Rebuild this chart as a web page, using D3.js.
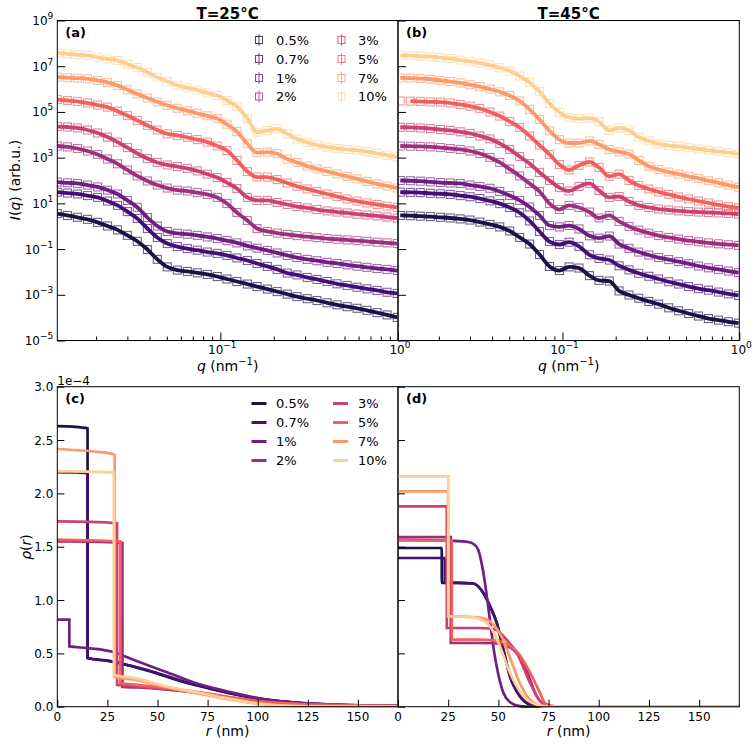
<!DOCTYPE html>
<html>
<head>
<meta charset="utf-8">
<script src="https://d3js.org/d3.v7.min.js"></script>
<style>
  body { margin: 0; background: #fff; }
  svg text { font-family: "DejaVu Sans", sans-serif; fill: #000; }
</style>
</head>
<body>
<svg id="fig" width="756" height="745"></svg>
<script>
// ---- data ----
var labels = ['0.5%', '0.7%', '1%', '2%', '3%', '5%', '7%', '10%'];
// magma colormap samples
var colors = ['#1d1147', '#420f74', '#6f1f81', '#9e2f7f', '#cd4071', '#f1605d', '#fd9a6a', '#fecf92'];

// scattering vector q (nm^-1)
var q = [0.0121, 0.0138, 0.0157, 0.0179, 0.0204, 0.0232, 0.0264, 0.0300, 0.0341, 0.0389,
         0.0442, 0.0503, 0.0573, 0.0652, 0.0742, 0.0845, 0.0961, 0.109, 0.124, 0.142,
         0.161, 0.184, 0.209, 0.238, 0.270, 0.308, 0.350, 0.399, 0.454, 0.517,
         0.588, 0.669, 0.762, 0.867, 0.990];

// log10 I(q), T = 25 C
var i25_05 = [0.55,0.47,0.39,0.30,0.17,0.01,-0.16,-0.40,-0.66,-1.02,-1.45,-1.78,-1.92,-1.98,-2.04,-2.11,-2.20,-2.31,-2.42,-2.53,-2.64,-2.75,-2.86,-2.97,-3.08,-3.17,-3.25,-3.35,-3.44,-3.52,-3.59,-3.68,-3.78,-3.88,-3.99];
var i25_07 = [1.49,1.45,1.41,1.34,1.26,1.10,0.91,0.64,0.34,-0.10,-0.49,-0.76,-0.89,-0.98,-1.05,-1.13,-1.19,-1.28,-1.39,-1.50,-1.63,-1.76,-1.89,-2.05,-2.13,-2.24,-2.33,-2.42,-2.52,-2.59,-2.67,-2.74,-2.81,-2.89,-2.94];
var i25_1  = [1.93,1.90,1.87,1.80,1.72,1.58,1.41,1.13,0.83,0.38,0.01,-0.23,-0.31,-0.35,-0.40,-0.47,-0.54,-0.63,-0.73,-0.86,-0.96,-1.06,-1.17,-1.28,-1.37,-1.45,-1.51,-1.58,-1.63,-1.69,-1.75,-1.80,-1.85,-1.89,-1.94];
var i25_2  = [3.51,3.47,3.40,3.29,3.14,2.94,2.73,2.46,2.20,1.98,1.80,1.67,1.58,1.54,1.47,1.39,1.26,0.99,0.60,0.25,-0.10,-0.23,-0.30,-0.36,-0.41,-0.46,-0.50,-0.54,-0.57,-0.60,-0.63,-0.66,-0.70,-0.73,-0.76];
var i25_3  = [4.36,4.34,4.30,4.21,4.08,3.90,3.68,3.44,3.18,2.96,2.79,2.68,2.61,2.53,2.42,2.28,2.13,1.91,1.65,1.26,1.13,1.13,1.04,0.95,0.86,0.80,0.73,0.67,0.62,0.58,0.53,0.49,0.45,0.40,0.36];
var i25_5  = [5.54,5.50,5.46,5.39,5.30,5.21,5.03,4.84,4.63,4.41,4.21,4.04,3.97,3.89,3.79,3.68,3.51,3.31,2.88,2.39,2.15,2.15,2.04,1.89,1.75,1.63,1.52,1.41,1.30,1.19,1.10,1.02,0.95,0.88,0.82];
var i25_7  = [6.52,6.50,6.48,6.45,6.38,6.29,6.16,5.97,5.79,5.61,5.44,5.29,5.16,5.05,4.94,4.83,4.71,4.46,4.14,3.61,3.22,3.24,3.17,2.94,2.79,2.63,2.51,2.40,2.29,2.18,2.07,1.96,1.85,1.76,1.67];
var i25_10 = [7.58,7.54,7.50,7.47,7.39,7.32,7.25,7.09,6.94,6.73,6.52,6.33,6.17,6.05,5.96,5.83,5.72,5.50,5.24,4.71,4.11,4.19,4.26,4.04,3.82,3.67,3.55,3.47,3.40,3.36,3.32,3.26,3.19,3.11,3.03];

// log10 I(q), T = 45 C
var i45_05 = [0.47,0.46,0.44,0.42,0.39,0.36,0.32,0.27,0.18,0.08,-0.03,-0.21,-0.49,-0.78,-1.24,-1.76,-1.94,-1.78,-1.83,-2.16,-2.37,-2.40,-2.83,-3.01,-3.15,-3.29,-3.41,-3.57,-3.70,-3.82,-3.93,-4.04,-4.11,-4.18,-4.24];
var i45_07 = [1.49,1.48,1.47,1.44,1.42,1.39,1.34,1.29,1.21,1.11,0.99,0.82,0.59,0.23,-0.23,-0.67,-0.80,-0.70,-0.88,-1.25,-1.41,-1.48,-1.73,-1.91,-2.06,-2.19,-2.31,-2.43,-2.53,-2.64,-2.73,-2.80,-2.88,-2.96,-3.03];
var i45_1  = [2.00,1.99,1.97,1.94,1.91,1.89,1.87,1.80,1.74,1.66,1.52,1.34,1.13,0.84,0.47,0.03,-0.03,0.03,-0.12,-0.42,-0.52,-0.43,-0.78,-0.97,-1.13,-1.26,-1.37,-1.46,-1.55,-1.64,-1.74,-1.82,-1.89,-1.96,-2.03];
var i45_2  = [3.51,3.50,3.49,3.47,3.44,3.40,3.36,3.29,3.18,3.01,2.79,2.50,2.20,1.87,1.52,0.99,0.73,0.91,0.82,0.62,0.36,0.47,0.21,-0.01,-0.17,-0.30,-0.41,-0.49,-0.56,-0.63,-0.68,-0.73,-0.77,-0.81,-0.84];
var i45_3  = [4.33,4.32,4.30,4.27,4.23,4.19,4.13,4.06,3.95,3.82,3.62,3.36,3.05,2.74,2.35,2.00,1.69,1.54,1.74,1.87,1.56,1.26,1.30,1.08,0.91,0.82,0.75,0.71,0.67,0.64,0.62,0.60,0.58,0.56,0.53];
var i45_5  = [5.48,5.47,5.46,5.44,5.43,5.39,5.33,5.25,5.15,5.00,4.82,4.58,4.32,3.95,3.55,3.14,2.70,2.46,2.66,2.81,2.57,2.18,2.28,2.00,1.78,1.63,1.50,1.39,1.28,1.19,1.10,1.02,0.93,0.86,0.80];
var i45_7  = [6.49,6.48,6.46,6.43,6.38,6.33,6.27,6.19,6.11,6.00,5.88,5.72,5.48,5.11,4.67,4.17,3.79,3.64,3.64,3.73,3.58,3.36,3.25,3.16,2.88,2.62,2.48,2.37,2.28,2.18,2.09,1.99,1.90,1.80,1.71];
var i45_10 = [7.47,7.46,7.44,7.42,7.38,7.34,7.27,7.21,7.14,7.05,6.93,6.79,6.57,6.29,5.89,5.37,4.98,4.76,4.71,4.73,4.58,4.19,4.30,4.19,3.90,3.73,3.60,3.53,3.49,3.43,3.38,3.32,3.27,3.22,3.17];

// first q index used by each fit line
var fitStart25 = [0, 0, 0, 0, 0, 0, 0, 0];
var fitStart45 = [0, 0, 0, 0, 0, 1, 0, 0];

// density profiles [r (nm), rho (1e-4)], T = 25 C
var p25_05 = [[0,2.63],[8,2.625],[15.1,2.61],[15.11,0.456],[26,0.43],[38,0.375],[50,0.31],[63,0.232],[76,0.17],[88,0.118],[104,0.064],[121,0.034],[138,0.018],[155,0.01],[170,0.006]];
var p25_07 = [[0,2.20],[8,2.197],[15.1,2.19],[15.11,0.456],[26.4,0.425],[38,0.378],[49.8,0.316],[63,0.237],[76.3,0.175],[87.8,0.122],[104.5,0.066],[121,0.035],[138,0.019],[155,0.01],[170,0.006]];
var p25_1  = [[0,0.816],[6,0.816],[6.01,0.565],[15,0.55],[26.4,0.52],[38,0.44],[55,0.32],[71,0.21],[88,0.13],[104,0.066],[121,0.035],[138,0.019],[155,0.012],[170,0.008]];
var p25_2  = [[0,1.55],[16,1.548],[32.5,1.535],[32.51,0.185],[40,0.18],[55,0.16],[71,0.128],[88,0.08],[104,0.042],[121,0.024],[138,0.014],[155,0.009],[170,0.006]];
var p25_3  = [[0,1.737],[16,1.733],[29.8,1.72],[29.81,0.205],[40,0.19],[55,0.165],[71,0.13],[88,0.08],[104,0.042],[121,0.024],[138,0.014],[155,0.009],[170,0.006]];
var p25_5  = [[0,1.566],[16,1.56],[31.4,1.55],[31.41,0.222],[40,0.205],[55,0.175],[71,0.135],[88,0.085],[104,0.045],[121,0.025],[138,0.015],[155,0.009],[170,0.006]];
var p25_7  = [[0,2.416],[10,2.405],[20,2.39],[28.6,2.362],[28.61,0.28],[38,0.255],[55,0.18],[71,0.12],[88,0.062],[101,0.027],[112,0.01],[125,0.004],[170,0.002]];
var p25_10 = [[0,2.206],[15,2.203],[28.2,2.197],[28.21,0.30],[38,0.27],[54.6,0.19],[71.3,0.128],[87.9,0.066],[101,0.028],[112,0.01],[125,0.004],[170,0.002]];

// density profiles, T = 45 C
var p45_05 = [[0,1.488],[21.8,1.488],[21.81,1.16],[30,1.16],[37.5,1.155],[42.5,1.066],[45.9,0.94],[49.2,0.785],[52.5,0.534],[55.8,0.284],[60.8,0.097],[65.8,0.019],[70,0.003],[170,0]];
var p45_07 = [[0,1.394],[23.3,1.394],[23.31,1.16],[30,1.16],[37.5,1.155],[42.5,1.066],[45.9,0.94],[49.2,0.785],[52.5,0.534],[55.8,0.284],[60.8,0.097],[65.8,0.019],[70,0.003],[170,0]];
var p45_1  = [[0,1.565],[27,1.555],[35,1.544],[38,1.52],[40,1.47],[42.5,1.26],[44.5,1.0],[46,0.78],[48,0.5],[50,0.3],[52.5,0.13],[56,0.04],[60,0.008],[64,0],[170,0]];
var p45_2  = [[0,1.59],[26.3,1.59],[26.31,0.597],[40,0.597],[47.5,0.595],[52.5,0.58],[57.5,0.534],[62.5,0.41],[65.8,0.253],[69.1,0.097],[72.4,0.028],[76,0.004],[80,0],[170,0]];
var p45_3  = [[0,1.878],[24.3,1.878],[24.31,0.738],[40,0.738],[45,0.735],[49,0.72],[52.5,0.66],[59.2,0.503],[65.8,0.222],[70.8,0.05],[75,0.008],[80,0],[170,0]];
var p45_5  = [[0,1.56],[26.8,1.556],[26.81,0.628],[40,0.628],[47,0.625],[55,0.58],[60,0.5],[65,0.347],[70,0.16],[73.5,0.03],[78,0.004],[82,0],[170,0]];
var p45_7  = [[0,2.018],[24.9,2.018],[24.91,0.85],[38,0.84],[42,0.83],[47,0.78],[52,0.64],[56,0.45],[60,0.25],[65,0.08],[70,0.015],[74,0.002],[78,0],[170,0]];
var p45_10 = [[0,2.159],[25.1,2.159],[25.11,0.847],[35,0.84],[39.2,0.83],[45.9,0.75],[50.8,0.565],[55.8,0.316],[62.5,0.097],[69,0.019],[73,0.003],[77,0],[170,0]];

var logI25 = [i25_05, i25_07, i25_1, i25_2, i25_3, i25_5, i25_7, i25_10];
var logI45 = [i45_05, i45_07, i45_1, i45_2, i45_3, i45_5, i45_7, i45_10];
var rho25 = [p25_05, p25_07, p25_1, p25_2, p25_3, p25_5, p25_7, p25_10];
var rho45 = [p45_05, p45_07, p45_1, p45_2, p45_3, p45_5, p45_7, p45_10];

var yLogTicks = [1e-5, 1e-3, 1e-1, 1e1, 1e3, 1e5, 1e7, 1e9];
var qMajor = [0.1, 1];
var qMinor = [0.02,0.03,0.04,0.05,0.06,0.07,0.08,0.09,0.2,0.3,0.4,0.5,0.6,0.7,0.8,0.9];
var rTicks = [0, 25, 50, 75, 100, 125, 150];
var rhoTicks = [0, 0.5, 1.0, 1.5, 2.0, 2.5, 3.0];

// ---- layout ----
var xL = 57.3, xM = 398, xR = 739.3;
var yTopA = 20.5, yBotA = 340.5, yTopC = 386.7, yBotC = 706.7;

var svg = d3.select("#fig");
var defs = svg.append("defs");

var xA = d3.scaleLog().domain([0.0121, 1]).range([xL, xM]),
    xB = d3.scaleLog().domain([0.01175, 1]).range([xM, xR]),
    yI = d3.scaleLog().domain([1e-5, 1e9]).range([yBotA, yTopA]),
    xC = d3.scaleLinear().domain([0, 170]).range([xL, xM]),
    xD = d3.scaleLinear().domain([0, 170]).range([xM, xR]),
    yRho = d3.scaleLinear().domain([0, 3]).range([yBotC, yTopC]);

function clip(id, x0, y0, x1, y1) {
  defs.append("clipPath").attr("id", id)
    .append("rect").attr("x", x0).attr("y", y0).attr("width", x1 - x0).attr("height", y1 - y0);
  return "url(#" + id + ")";
}

function supLabel(sel, base, exp) {
  sel.append("tspan").text(base);
  sel.append("tspan").attr("dy", -6).attr("font-size", 9).text(exp);
}

function expText(v) {
  var e = Math.round(Math.log10(v));
  return (e < 0 ? "\u2212" + (-e) : "" + e);
}

// ---- scattering panels ----
function scatterPanel(x, x0, x1, logI, starts, tag, showYLabels) {
  var g = svg.append("g");
  var body = g.append("g").attr("clip-path", clip("clip" + tag, x0, yTopA, x1, yBotA));

  logI.forEach(function(vals, i) {
    var pts = q.map(function(d, j) { return [d, Math.pow(10, vals[j])]; });
    var line = d3.line()
        .x(function(d) { return x(d[0]); })
        .y(function(d) { return yI(d[1]); })
        .curve(d3.curveMonotoneX);
    body.append("path")
      .attr("d", line(pts.slice(starts[i])))
      .attr("fill", "none")
      .attr("stroke", colors[i])
      .attr("stroke-width", 3.8);
    body.append("g").selectAll("rect")
      .data(pts).enter().append("rect")
        .attr("x", function(d) { return x(d[0]) - 4; })
        .attr("y", function(d) { return yI(d[1]) - 4; })
        .attr("width", 8).attr("height", 8)
        .attr("fill", "none")
        .attr("stroke", colors[i])
        .attr("stroke-opacity", 0.65)
        .attr("stroke-width", 1.1);
  });

  // axes (ticks inward)
  g.append("g").attr("transform", "translate(" + x0 + ",0)")
    .call(d3.axisLeft(yI).tickValues(yLogTicks).tickSizeInner(-8).tickSizeOuter(0).tickFormat(""));
  g.append("g").attr("transform", "translate(0," + yBotA + ")")
    .call(d3.axisBottom(x).tickValues(qMajor).tickSizeInner(-8).tickSizeOuter(0).tickFormat(""));
  g.append("g").attr("transform", "translate(0," + yBotA + ")")
    .call(d3.axisBottom(x).tickValues(qMinor).tickSizeInner(-4).tickSizeOuter(0).tickFormat(""));
  g.selectAll(".domain").remove();

  g.append("rect").attr("x", x0).attr("y", yTopA).attr("width", x1 - x0).attr("height", yBotA - yTopA)
    .attr("fill", "none").attr("stroke", "#000").attr("stroke-width", 1);

  if (showYLabels) {
    yLogTicks.forEach(function(v) {
      var t = g.append("text").attr("x", x0 - 4).attr("y", yI(v) + 4.5)
        .attr("text-anchor", "end").attr("font-size", 12);
      supLabel(t, "10", expText(v));
    });
  }
  qMajor.forEach(function(v) {
    var t = g.append("text").attr("x", x(v) + 2).attr("y", yBotA + 13)
      .attr("text-anchor", "middle").attr("font-size", 12);
    supLabel(t, "10", expText(v));
  });

  var xl = g.append("text").attr("x", (x0 + x1) / 2).attr("y", 371)
    .attr("text-anchor", "middle").attr("font-size", 14);
  xl.append("tspan").attr("font-style", "italic").text("q");
  xl.append("tspan").text(" (nm");
  xl.append("tspan").attr("dy", -6).attr("font-size", 10).text("\u22121");
  xl.append("tspan").attr("dy", 6).text(")");
  return g;
}

// ---- density panels ----
function rhoPanel(x, x0, x1, profiles, tag, showYLabels) {
  var g = svg.append("g");
  var body = g.append("g").attr("clip-path", clip("clip" + tag, x0, yTopC, x1, yBotC + 2));
  var line = d3.line()
      .x(function(d) { return x(d[0]); })
      .y(function(d) { return yRho(d[1]); })
      .curve(d3.curveMonotoneX);
  profiles.forEach(function(p, i) {
    body.append("path").attr("d", line(p))
      .attr("fill", "none").attr("stroke", colors[i]).attr("stroke-width", 2.7);
  });

  g.append("g").attr("transform", "translate(" + x0 + ",0)")
    .call(d3.axisLeft(yRho).tickValues(rhoTicks).tickSizeInner(-7).tickSizeOuter(0).tickFormat(""));
  g.append("g").attr("transform", "translate(0," + yBotC + ")")
    .call(d3.axisBottom(x).tickValues(rTicks).tickSizeInner(-7).tickSizeOuter(0).tickFormat(""));
  g.selectAll(".domain").remove();

  g.append("rect").attr("x", x0).attr("y", yTopC).attr("width", x1 - x0).attr("height", yBotC - yTopC)
    .attr("fill", "none").attr("stroke", "#000").attr("stroke-width", 1);

  if (showYLabels) {
    g.selectAll(".ylab").data(rhoTicks).enter().append("text")
      .attr("x", x0 - 4).attr("y", function(d) { return yRho(d) + 4.5; })
      .attr("text-anchor", "end").attr("font-size", 12)
      .text(function(d) { return d.toFixed(1); });
  }
  g.selectAll(".xlab").data(rTicks).enter().append("text")
    .attr("x", function(d) { return x(d); }).attr("y", yBotC + 14)
    .attr("text-anchor", "middle").attr("font-size", 12)
    .text(function(d) { return d; });

  var xl = g.append("text").attr("x", (x0 + x1) / 2).attr("y", 736)
    .attr("text-anchor", "middle").attr("font-size", 14);
  xl.append("tspan").attr("font-style", "italic").text("r");
  xl.append("tspan").text(" (nm)");
  return g;
}

scatterPanel(xA, xL, xM, logI25, fitStart25, "a", true);
scatterPanel(xB, xM, xR, logI45, fitStart45, "b", false);
rhoPanel(xC, xL, xM, rho25, "c", true);
rhoPanel(xD, xM, xR, rho45, "d", false);

// titles & panel letters
svg.append("text").attr("x", (xL + xM) / 2).attr("y", 19).attr("text-anchor", "middle")
  .attr("font-size", 15).attr("font-weight", "bold").text("T=25\u00b0C");
svg.append("text").attr("x", (xM + xR) / 2).attr("y", 19).attr("text-anchor", "middle")
  .attr("font-size", 15).attr("font-weight", "bold").text("T=45\u00b0C");
[["(a)", xL + 8, 37], ["(b)", xM + 8, 37], ["(c)", xL + 8, 403], ["(d)", xM + 8, 403]].forEach(function(p) {
  svg.append("text").attr("x", p[1]).attr("y", p[2]).attr("font-size", 13)
    .attr("font-weight", "bold").text(p[0]);
});

// y labels
var yl = svg.append("text").attr("transform", "translate(20,180) rotate(-90)")
  .attr("text-anchor", "middle").attr("font-size", 14);
yl.append("tspan").attr("font-style", "italic").text("I");
yl.append("tspan").text("(");
yl.append("tspan").attr("font-style", "italic").text("q");
yl.append("tspan").text(") (arb.u.)");

var yl2 = svg.append("text").attr("transform", "translate(31,547) rotate(-90)")
  .attr("text-anchor", "middle").attr("font-size", 14);
yl2.append("tspan").attr("font-style", "italic").text("\u03c1");
yl2.append("tspan").text("(");
yl2.append("tspan").attr("font-style", "italic").text("r");
yl2.append("tspan").text(")");

svg.append("text").attr("x", xL).attr("y", 384.5).attr("font-size", 12).text("1e\u22124");

// legends
var legRows = [40, 59, 78, 96.5];
labels.forEach(function(lab, i) {
  var col = Math.floor(i / 4), row = i % 4;
  var sx = col === 0 ? 259 : 341.5, tx = col === 0 ? 276 : 358;
  var y = legRows[row];
  var lg = svg.append("g");
  lg.append("line").attr("x1", sx).attr("x2", sx).attr("y1", y - 6).attr("y2", y + 6)
    .attr("stroke", colors[i]).attr("stroke-opacity", 0.8).attr("stroke-width", 1);
  lg.append("rect").attr("x", sx - 3.5).attr("y", y - 3.5).attr("width", 7).attr("height", 7)
    .attr("fill", "none").attr("stroke", colors[i]).attr("stroke-opacity", 0.8).attr("stroke-width", 1);
  lg.append("text").attr("x", tx).attr("y", y + 4.5).attr("font-size", 13).text(lab);

  var y2 = 403.5 + row * 19;
  var lx = col === 0 ? 251.5 : 333;
  var lg2 = svg.append("g");
  lg2.append("line").attr("x1", lx).attr("x2", lx + 15).attr("y1", y2).attr("y2", y2)
    .attr("stroke", colors[i]).attr("stroke-width", 3);
  lg2.append("text").attr("x", tx).attr("y", y2 + 4.5).attr("font-size", 13).text(lab);
});
</script>
</body>
</html>
